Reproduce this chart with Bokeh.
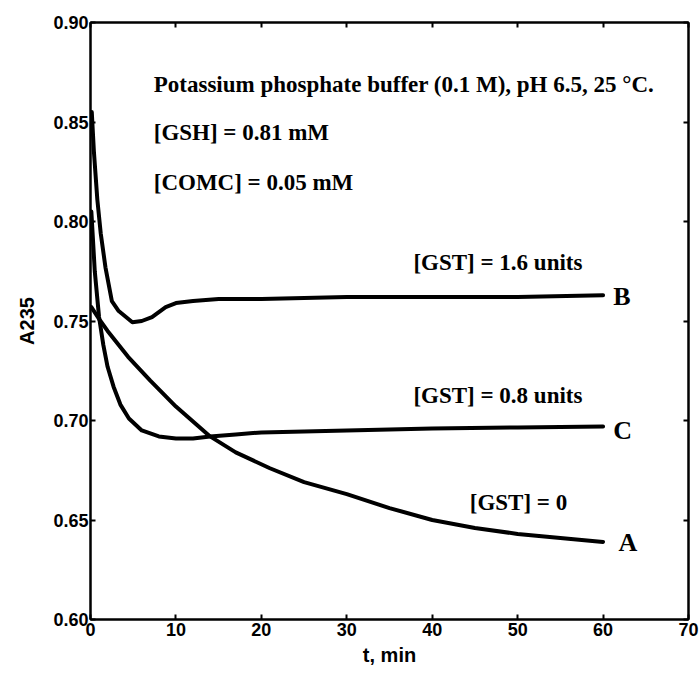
from bokeh.plotting import figure
from bokeh.models import (Range1d, FixedTicker, LinearAxis, Label, NumeralTickFormatter,
                          ColumnDataSource, CustomLabelingPolicy)
from bokeh.embed import file_html
from bokeh.resources import INLINE

# ---- data ----
t_A = [0.1, 1, 2, 4.4, 7, 10, 14, 17, 21, 25, 30, 35, 40, 45, 50, 55, 60]
a_A = [0.757, 0.751, 0.745, 0.732, 0.720, 0.707, 0.692, 0.684, 0.676, 0.669,
       0.663, 0.656, 0.650, 0.646, 0.643, 0.641, 0.639]

t_B = [0.15, 0.4, 0.8, 1.2, 1.75, 2.5, 3.3, 4.9, 6, 7.2, 8.8, 10, 12, 15, 20,
       30, 40, 50, 60]
a_B = [0.855, 0.835, 0.811, 0.794, 0.777, 0.760, 0.755, 0.7494, 0.750, 0.752,
       0.757, 0.759, 0.760, 0.761, 0.761, 0.762, 0.762, 0.762, 0.763]

t_C = [0.1, 0.5, 1.0, 1.5, 2, 2.7, 3.5, 4.5, 6, 8, 10, 12, 14, 17, 20, 30, 40,
       50, 60]
a_C = [0.805, 0.775, 0.752, 0.738, 0.727, 0.717, 0.708, 0.701, 0.695, 0.692,
       0.691, 0.691, 0.692, 0.693, 0.694, 0.695, 0.696, 0.6965, 0.697]

x_ticks = [0, 10, 20, 30, 40, 50, 60, 70]
y_ticks = [0.60, 0.65, 0.70, 0.75, 0.80, 0.85, 0.90]

x_label = "t, min"
y_label = "A235"

notes = ["Potassium phosphate buffer (0.1 M), pH 6.5, 25 °C.",
         "[GSH] = 0.81 mM",
         "[COMC] = 0.05 mM"]
notes_x = [7.4, 7.4, 7.4]
notes_y = [0.869, 0.8445, 0.8195]

gst_labels = ["[GST] = 1.6 units", "[GST] = 0.8 units", "[GST] = 0"]
gst_x = [37.8, 37.8, 50.1]
gst_y = [0.7794, 0.7126, 0.6588]
gst_align = ["left", "left", "center"]

curve_names = ["B", "C", "A"]
curve_name_x = [61.2, 61.2, 61.8]
curve_name_y = [0.7623, 0.695, 0.6387]

# ---- figure ----
p = figure(frame_width=598, frame_height=597,
           x_range=Range1d(0, 70), y_range=Range1d(0.60, 0.90),
           output_backend="svg", toolbar_location=None,
           min_border_left=90, min_border_top=22, min_border_right=10,
           min_border_bottom=54, background_fill_color="white",
           border_fill_color="white")
p.xgrid.visible = False
p.ygrid.visible = False
p.outline_line_color = "black"
p.outline_line_width = 2

tick_font = "Liberation Sans"
no_labels = CustomLabelingPolicy(code="return new Set()")

def style_axis(ax, ticks, show_labels=True):
    ax.ticker = FixedTicker(ticks=ticks)
    ax.axis_line_color = "black"
    ax.axis_line_width = 2
    ax.major_tick_in = 5
    ax.major_tick_out = 0
    ax.major_tick_line_width = 2
    ax.major_tick_line_color = "black"
    ax.minor_tick_line_color = None
    if show_labels:
        ax.major_label_text_font = tick_font
        ax.major_label_text_font_style = "bold"
        ax.major_label_text_font_size = "18px"
        ax.major_label_text_color = "black"
    else:
        ax.major_label_policy = no_labels
        ax.major_label_standoff = 0

xa = p.xaxis[0]
ya = p.yaxis[0]
style_axis(xa, x_ticks)
style_axis(ya, y_ticks)
ya.formatter = NumeralTickFormatter(format="0.00")
xa.major_label_standoff = 3
ya.major_label_standoff = 2

xa.axis_label = x_label
ya.axis_label = y_label
for ax in (xa, ya):
    ax.axis_label_text_font = tick_font
    ax.axis_label_text_font_style = "bold"
    ax.axis_label_text_font_size = "20px"
    ax.axis_label_text_color = "black"
xa.axis_label_standoff = 5
ya.axis_label_standoff = 12

top = LinearAxis()
style_axis(top, x_ticks, show_labels=False)
p.add_layout(top, "above")
right = LinearAxis()
style_axis(right, y_ticks, show_labels=False)
p.add_layout(right, "right")

# ---- curves ----
for tt, aa in ((t_A, a_A), (t_B, a_B), (t_C, a_C)):
    src = ColumnDataSource(dict(t=tt, a=aa))
    p.line("t", "a", source=src, line_color="black", line_width=4,
           line_join="round", line_cap="round")

# ---- annotations ----
serif = "Liberation Serif"
for txt, x, y in zip(notes, notes_x, notes_y):
    p.add_layout(Label(x=x, y=y, text=txt, text_font=serif,
                       text_font_style="bold", text_font_size="23px",
                       text_baseline="middle", text_align="left",
                       text_color="black"))
for txt, x, y, al in zip(gst_labels, gst_x, gst_y, gst_align):
    p.add_layout(Label(x=x, y=y, text=txt, text_font=serif,
                       text_font_style="bold", text_font_size="23px",
                       text_baseline="middle", text_align=al,
                       text_color="black"))
for txt, x, y in zip(curve_names, curve_name_x, curve_name_y):
    p.add_layout(Label(x=x, y=y, text=txt, text_font=serif,
                       text_font_style="bold", text_font_size="26px",
                       text_baseline="middle", text_align="left",
                       text_color="black"))

open("out.html", "w").write(file_html(p, INLINE))
